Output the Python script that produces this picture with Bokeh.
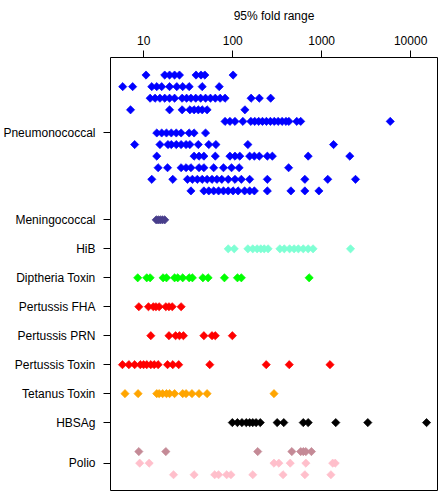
import math
from bokeh.plotting import figure
from bokeh.models import Range1d, FixedTicker, ColumnDataSource
from bokeh.embed import file_html
from bokeh.resources import INLINE

# ---- data (95% fold range) ----
pneumo_rows = [
    [10.6, 17.2, 19.5, 22.2, 25.2, 38.7, 44, 48.6, 101],
    [5.8, 7.5, 12.3, 14.0, 15.9, 19.5, 23.5, 27.4, 32.4, 45.4, 70.5],
    [11.8, 13.4, 15.2, 17.2, 19.5, 22.2, 27.0, 30.3, 33.9, 38.4, 43.6, 49.5, 56.2, 63.7, 72.3, 82.0, 161, 199, 267],
    [7.1, 19.5, 27.0, 33.0, 36.8, 41.0, 45.4, 51.5, 137],
    [82, 93, 106, 130, 160, 177, 196, 216, 239, 265, 293, 324, 359, 397, 428, 525, 581, 5900],
    [14.0, 15.9, 18.0, 20.4, 23.2, 26.3, 32.4, 36.8, 49.5],
    [7.9, 15.2, 18.7, 20.4, 23.2, 26.3, 29.9, 33.0, 41.0, 53.8, 64.7, 148, 1360],
    [14.0, 36.8, 41.8, 47.4, 63.7, 93, 106, 120, 155, 175, 199, 245, 279, 705, 2070],
    [14.5, 18.5, 26.3, 29.9, 33.9, 41.8, 47.4, 61.1, 78.7, 97, 118, 425],
    [12.3, 21.2, 31.0, 35.2, 40.0, 45.4, 51.5, 58.5, 66.4, 75.3, 89, 106, 125, 155, 245, 647, 1170, 2400],
    [33.9, 47.4, 53.8, 61.1, 69.3, 78.7, 89, 101, 115, 136, 155, 175, 245, 451, 647, 931],
]
meningo = [13.8, 14.5, 15.3, 16.2, 17.2]
hib = [89, 104, 148, 168, 188, 207, 226, 250, 339, 380, 436, 490, 547, 621, 705, 800, 2110]
diphtheria = [8.55, 10.8, 11.8, 16.5, 18.0, 22.2, 24.1, 27.4, 32.4, 35.2, 46.2, 52.9, 80.7, 113, 125, 723]
pert_fha = [8.8, 11.3, 12.8, 13.7, 14.9, 17.7, 19.2, 20.9, 26.3]
pert_prn = [12.0, 19.2, 22.8, 25.2, 27.9, 47.4, 58.5, 63.7, 99]
pert_tox = [5.76, 6.8, 7.9, 9.15, 9.95, 10.8, 12.0, 13.1, 14.5, 18.5, 21.2, 24.7, 55.2, 238, 432, 1240]
tetanus = [6.15, 8.63, 14.0, 14.9, 16.3, 18.0, 19.5, 22.2, 27.4, 29.9, 34.8, 41.8, 51.5, 291]
hbsag = [99, 113, 127, 142, 155, 168, 183, 204, 316, 375, 621, 705, 1440, 3300, 15100]
polio_a = [8.8, 17.7, 191, 462, 581, 621, 664, 767]
polio_b = [9.0, 11.5, 291, 330, 443, 664, 1330, 1420]
polio_c = [21.6, 36.8, 62.7, 69.3, 85.5, 95.5, 168, 368, 647, 1270]

labels = ["Pneumonococcal", "Meningococcal", "HiB", "Diptheria Toxin", "Pertussis FHA",
          "Pertussis PRN", "Pertussis Toxin", "Tetanus Toxin", "HBSAg", "Polio"]
label_pos = [0, 15, 20, 25, 30, 35, 40, 45, 50, 57]
pneumo_row_pos = [-10, -8, -6, -4, -2, 0, 2, 4, 6, 8, 10]
x_ticks = [10, 100, 1000, 10000]

groups = [(row, ypos, "#0000FF") for row, ypos in zip(pneumo_rows, pneumo_row_pos)]
groups += [
    (meningo, 15, "#483D8B"),
    (hib, 20, "#7FFFD4"),
    (diphtheria, 25, "#00FF00"),
    (pert_fha, 30, "#FF0000"),
    (pert_prn, 35, "#FF0000"),
    (pert_tox, 40, "#FF0000"),
    (tetanus, 45, "#FFA500"),
    (hbsag, 50, "#000000"),
    (polio_a, 55, "#C48A96"),
    (polio_b, 57, "#FFBFCB"),
    (polio_c, 59, "#FFBFCB"),
]
xs, ys, cs = [], [], []
for vals, ypos, col in groups:
    for v in vals:
        xs.append(v)
        ys.append(ypos)
        cs.append(col)
src = ColumnDataSource(dict(x=xs, y=ys, c=cs))

FONT = "Liberation Sans"

p = figure(width=438, height=491, x_axis_type="log", x_axis_location="above",
           x_range=Range1d(10 ** 0.626, 10 ** 4.302), y_range=Range1d(61.72, -13.03),
           output_backend="svg", toolbar_location=None,
           min_border_left=109, min_border_right=1, min_border_top=57, min_border_bottom=1)
p.background_fill_color = "white"
p.border_fill_color = "white"
p.outline_line_color = "black"
p.outline_line_width = 1
p.xgrid.visible = False
p.ygrid.visible = False

p.scatter("x", "y", source=src, marker="square", size=5.8, angle=math.pi / 4,
          fill_color="c", line_color="c", line_width=0.7)

xa = p.xaxis[0]
xa.ticker = FixedTicker(ticks=x_ticks, minor_ticks=[])
xa.major_label_overrides = {t: str(t) for t in x_ticks}
xa.axis_label = "95% fold range"
xa.axis_label_text_font = FONT
xa.axis_label_text_font_size = "12px"
xa.axis_label_text_font_style = "normal"
xa.axis_label_text_color = "black"
xa.axis_label_standoff = 10
xa.major_label_text_font = FONT
xa.major_label_text_font_size = "12px"
xa.major_label_text_color = "black"
xa.major_label_standoff = 6
xa.axis_line_color = None
xa.major_tick_out = 7
xa.major_tick_in = 0
xa.minor_tick_out = 0
xa.minor_tick_in = 0
xa.major_tick_line_color = "black"

ya = p.yaxis[0]
ya.ticker = FixedTicker(ticks=label_pos, minor_ticks=[])
ya.major_label_overrides = dict(zip(label_pos, labels))
ya.major_label_text_font = FONT
ya.major_label_text_font_size = "12px"
ya.major_label_text_color = "black"
ya.major_label_standoff = 8
ya.axis_line_color = None
ya.major_tick_out = 7
ya.major_tick_in = 0
ya.minor_tick_out = 0
ya.minor_tick_in = 0
ya.major_tick_line_color = "black"

open("out.html", "w").write(file_html(p, INLINE))
